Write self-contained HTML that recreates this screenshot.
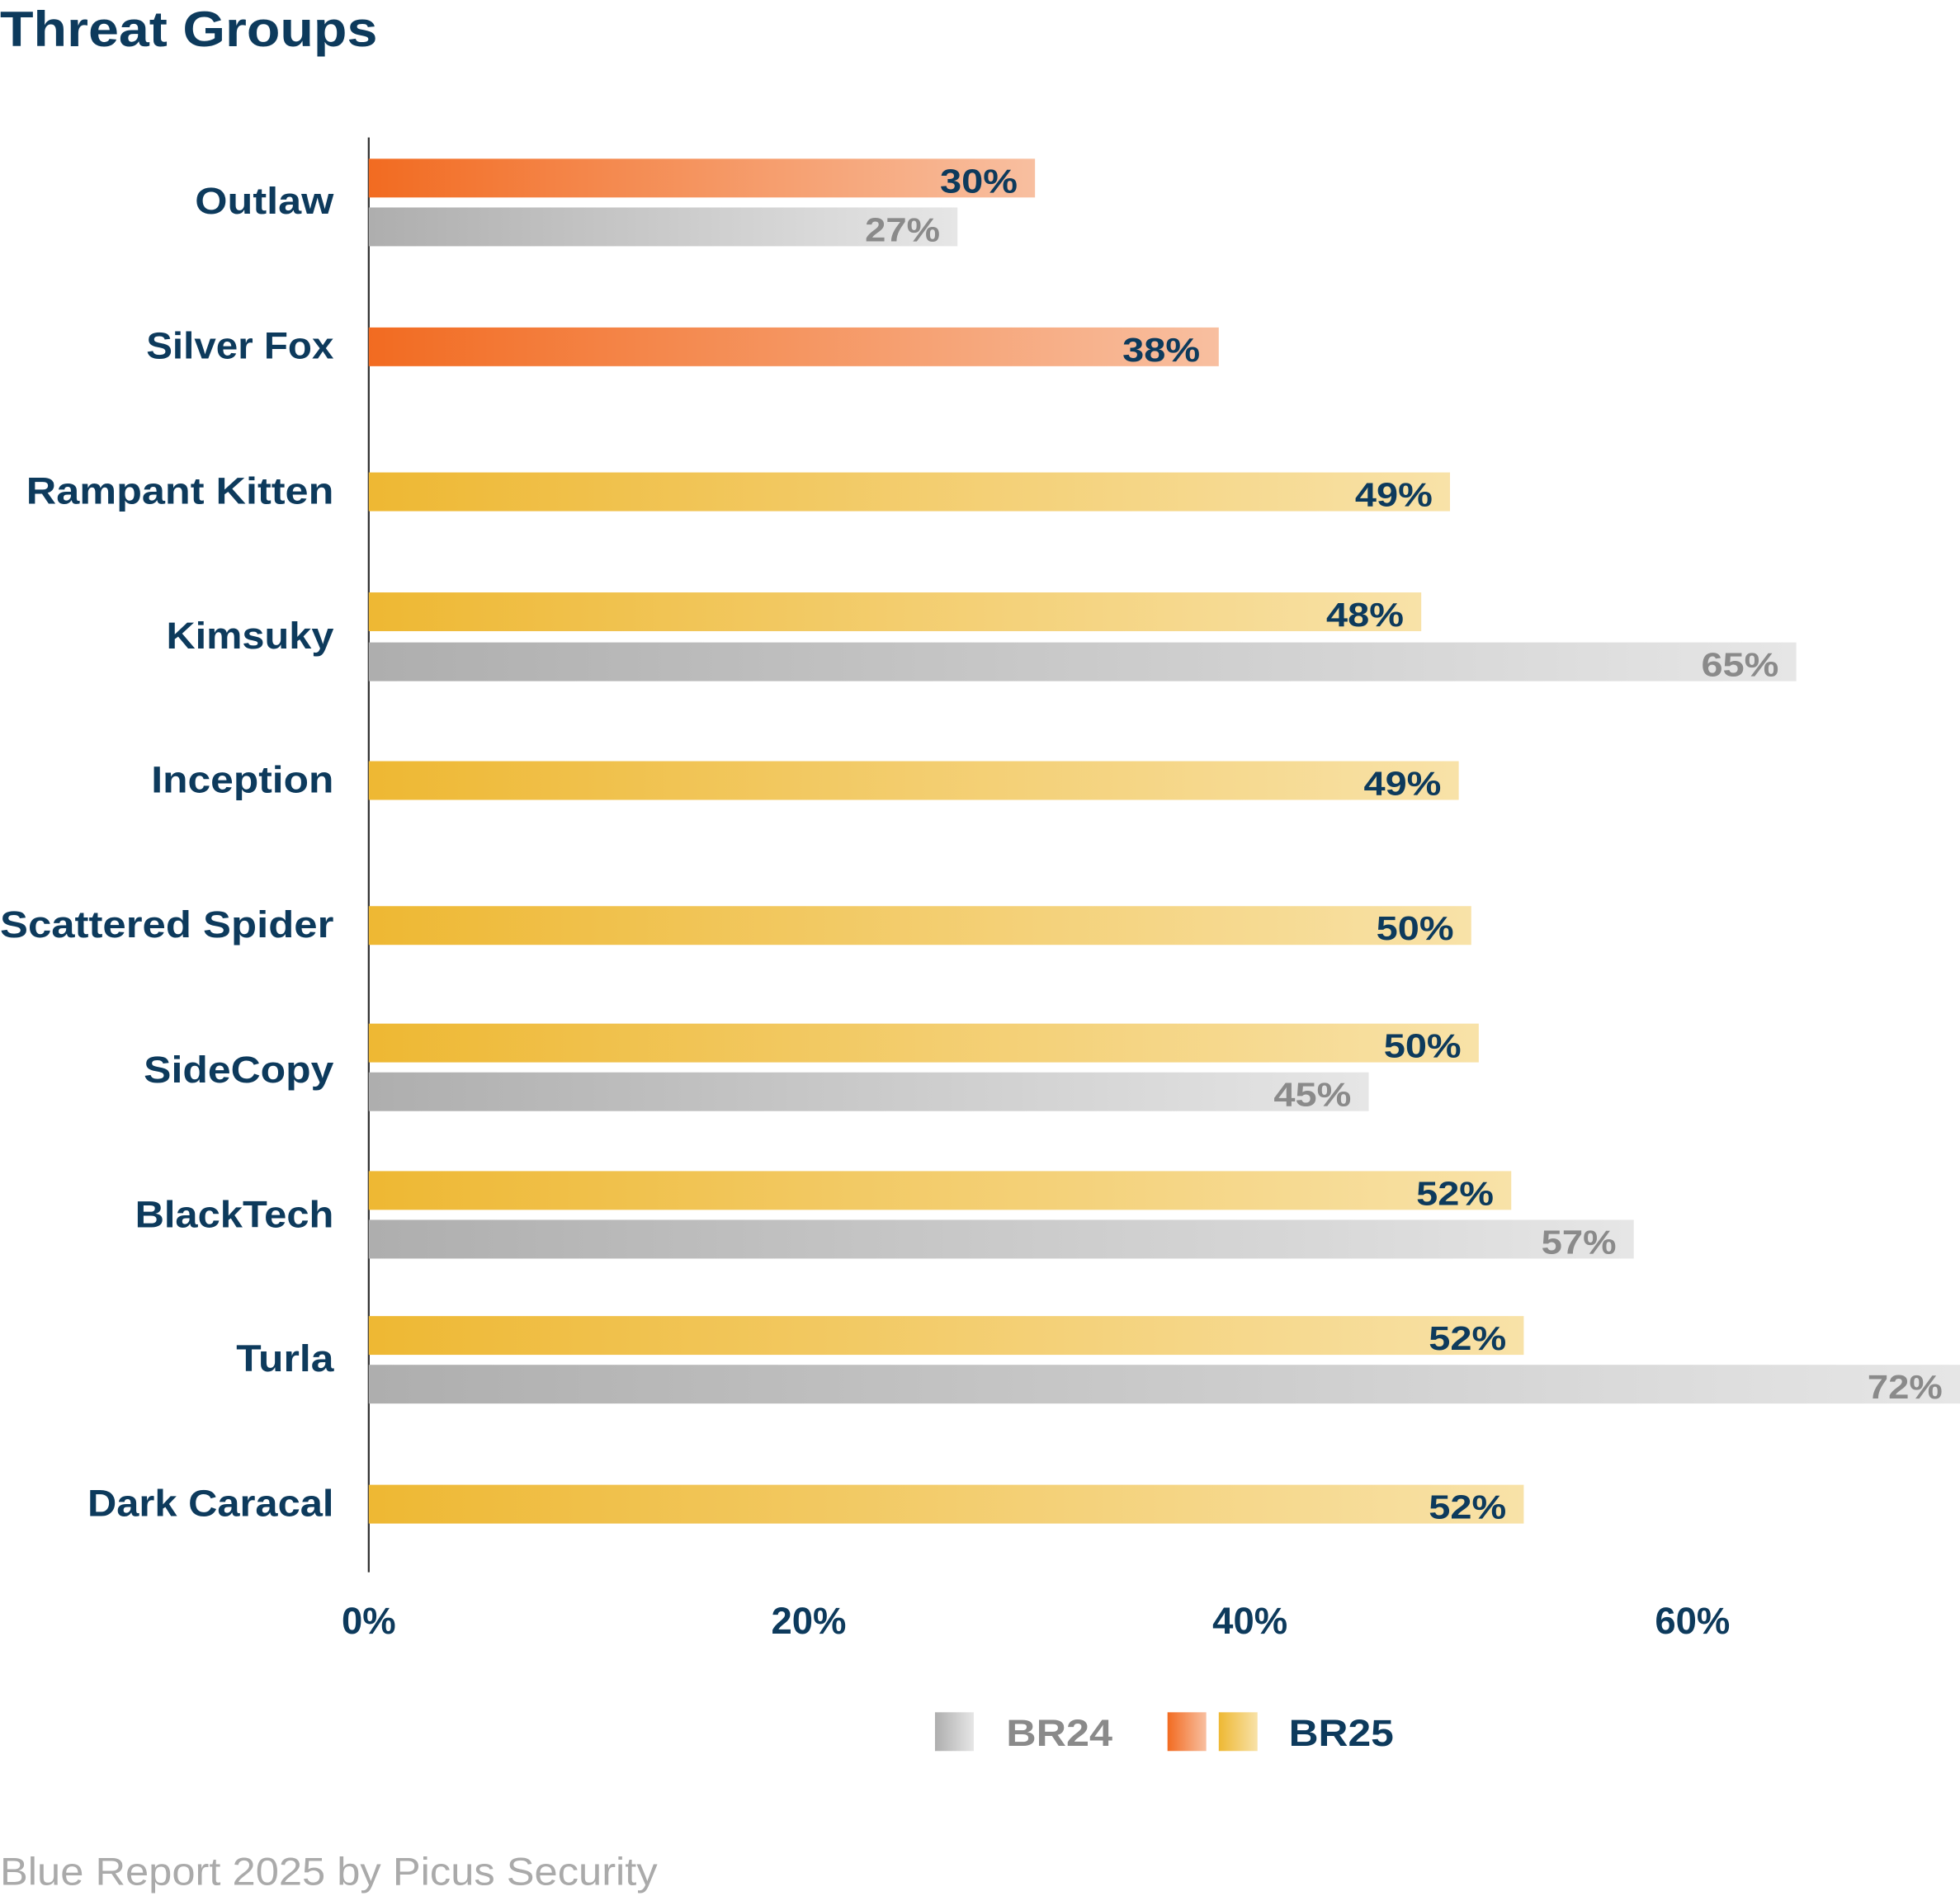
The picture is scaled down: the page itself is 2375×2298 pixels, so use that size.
<!DOCTYPE html>
<html><head><meta charset="utf-8"><style>
html,body{margin:0;padding:0;background:#fff;}
svg{display:block;}
text{font-family:"Liberation Sans",sans-serif;}
</style></head><body>
<svg width="2375" height="2298" viewBox="0 0 1568 1517" preserveAspectRatio="none" xmlns="http://www.w3.org/2000/svg">
<defs>
<linearGradient id="o"><stop offset="0" stop-color="#f26b21"/><stop offset="1" stop-color="#f8bfa0"/></linearGradient>
<linearGradient id="y"><stop offset="0" stop-color="#eeb833"/><stop offset="1" stop-color="#f8e2a8"/></linearGradient>
<linearGradient id="g"><stop offset="0" stop-color="#aeaeae"/><stop offset="1" stop-color="#e6e6e6"/></linearGradient>
</defs>
<text x="0" y="37" font-size="40" font-weight="bold" fill="#0d3a5c" textLength="302" lengthAdjust="spacingAndGlyphs">Threat Groups</text>
<line x1="295" y1="110" x2="295" y2="1258" stroke="#333" stroke-width="1.5"/>
<g font-size="30" font-weight="bold" fill="#0d3a5c" text-anchor="end" lengthAdjust="spacingAndGlyphs">
<text x="267" y="171" textLength="111" lengthAdjust="spacingAndGlyphs">Outlaw</text>
<text x="267" y="287" textLength="150" lengthAdjust="spacingAndGlyphs">Silver Fox</text>
<text x="267" y="403" textLength="246" lengthAdjust="spacingAndGlyphs">Rampant Kitten</text>
<text x="267" y="519" textLength="134" lengthAdjust="spacingAndGlyphs">Kimsuky</text>
<text x="267" y="634" textLength="146" lengthAdjust="spacingAndGlyphs">Inception</text>
<text x="267" y="750" textLength="267" lengthAdjust="spacingAndGlyphs">Scattered Spider</text>
<text x="267" y="866" textLength="152" lengthAdjust="spacingAndGlyphs">SideCopy</text>
<text x="267" y="982" textLength="159" lengthAdjust="spacingAndGlyphs">BlackTech</text>
<text x="267" y="1097" textLength="78" lengthAdjust="spacingAndGlyphs">Turla</text>
<text x="267" y="1213" textLength="197" lengthAdjust="spacingAndGlyphs">Dark Caracal</text>
</g>
<rect x="295" y="127" width="533" height="31" fill="url(#o)"/>
<rect x="295" y="166" width="471" height="31" fill="url(#g)"/>
<rect x="295" y="262" width="680" height="31" fill="url(#o)"/>
<rect x="295" y="378" width="865" height="31" fill="url(#y)"/>
<rect x="295" y="474" width="842" height="31" fill="url(#y)"/>
<rect x="295" y="514" width="1142" height="31" fill="url(#g)"/>
<rect x="295" y="609" width="872" height="31" fill="url(#y)"/>
<rect x="295" y="725" width="882" height="31" fill="url(#y)"/>
<rect x="295" y="819" width="888" height="31" fill="url(#y)"/>
<rect x="295" y="858" width="800" height="31" fill="url(#g)"/>
<rect x="295" y="937" width="914" height="31" fill="url(#y)"/>
<rect x="295" y="976" width="1012" height="31" fill="url(#g)"/>
<rect x="295" y="1053" width="924" height="31" fill="url(#y)"/>
<rect x="295" y="1092" width="1273" height="31" fill="url(#g)"/>
<rect x="295" y="1188" width="924" height="31" fill="url(#y)"/>
<g font-size="27" font-weight="bold" fill="#0d3a5c" text-anchor="end">
<text x="814" y="154" textLength="62" lengthAdjust="spacingAndGlyphs">30%</text>
<text x="960" y="289" textLength="62" lengthAdjust="spacingAndGlyphs">38%</text>
<text x="1146" y="405" textLength="62" lengthAdjust="spacingAndGlyphs">49%</text>
<text x="1123" y="501" textLength="62" lengthAdjust="spacingAndGlyphs">48%</text>
<text x="1153" y="636" textLength="62" lengthAdjust="spacingAndGlyphs">49%</text>
<text x="1163" y="752" textLength="62" lengthAdjust="spacingAndGlyphs">50%</text>
<text x="1169" y="846" textLength="62" lengthAdjust="spacingAndGlyphs">50%</text>
<text x="1195" y="964" textLength="62" lengthAdjust="spacingAndGlyphs">52%</text>
<text x="1205" y="1080" textLength="62" lengthAdjust="spacingAndGlyphs">52%</text>
<text x="1205" y="1215" textLength="62" lengthAdjust="spacingAndGlyphs">52%</text>
</g>
<g font-size="27" font-weight="bold" fill="#8a8a8a" text-anchor="end">
<text x="752" y="193" textLength="60" lengthAdjust="spacingAndGlyphs">27%</text>
<text x="1423" y="541" textLength="62" lengthAdjust="spacingAndGlyphs">65%</text>
<text x="1081" y="885" textLength="62" lengthAdjust="spacingAndGlyphs">45%</text>
<text x="1293" y="1003" textLength="60" lengthAdjust="spacingAndGlyphs">57%</text>
<text x="1554" y="1119" textLength="60" lengthAdjust="spacingAndGlyphs">72%</text>
</g>
<g font-size="30" font-weight="bold" fill="#0d3a5c" text-anchor="middle">
<text x="295" y="1307">0%</text>
<text x="647" y="1307">20%</text>
<text x="1000" y="1307">40%</text>
<text x="1354" y="1307">60%</text>
</g>
<rect x="748" y="1370" width="31" height="31" fill="url(#g)"/>
<text x="805" y="1397" font-size="30" font-weight="bold" fill="#8a8a8a" textLength="85" lengthAdjust="spacingAndGlyphs">BR24</text>
<rect x="934" y="1370" width="31" height="31" fill="url(#o)"/>
<rect x="975" y="1370" width="31" height="31" fill="url(#y)"/>
<text x="1031" y="1397" font-size="30" font-weight="bold" fill="#0d3a5c" textLength="84" lengthAdjust="spacingAndGlyphs">BR25</text>
<text x="0" y="1508" font-size="31" fill="#aaaaaa" textLength="526" lengthAdjust="spacingAndGlyphs">Blue Report 2025 by Picus Security</text>
</svg>
</body></html>
